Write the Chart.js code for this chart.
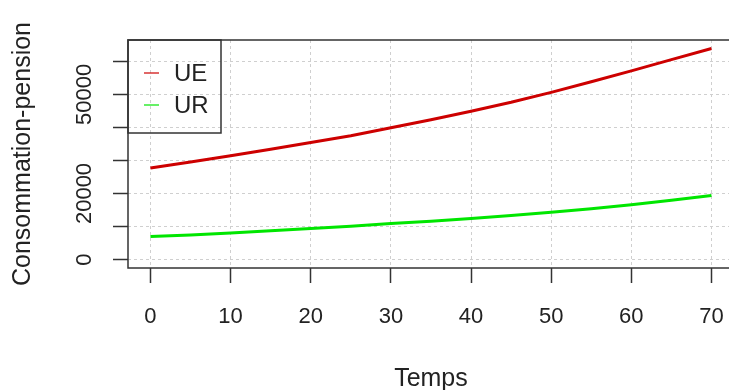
<!DOCTYPE html>
<html lang="fr">
<head>
    <meta charset="UTF-8">
    <title>Consommation-pension</title>
    <script src="https://cdn.jsdelivr.net/npm/chart.js"></script>
    <style>
        html, body {
            margin: 0;
            padding: 0;
            background: #ffffff;
            overflow: hidden;
        }
        .wrap {
            position: relative;
            width: 745px;
            height: 390px;
        }
    </style>
</head>
<body>
    <div class="wrap">
        <canvas id="chart"></canvas>
    </div>

    <script>
        // valeurs
        const temps = [0, 5, 10, 15, 20, 25, 30, 35, 40, 45, 50, 55, 60, 65, 70];
        const ue = [27700, 29500, 31400, 33400, 35400, 37500, 39900, 42300, 44900, 47600, 50600, 53800, 57100, 60500, 63900];
        const ur = [6950, 7450, 8050, 8700, 9400, 10100, 10900, 11600, 12400, 13300, 14300, 15350, 16600, 17950, 19400];

        const xTicks = [0, 10, 20, 30, 40, 50, 60, 70];
        const yTicks = [0, 10000, 20000, 30000, 40000, 50000, 60000];
        const yLabels = [0, 20000, 50000]; // R drops the labels that overlap

        const seriesNames = ['UE', 'UR'];
        const seriesColors = ['#cd0000', '#00e600'];

        // R style: 4% extension of the data range
        const xPad = (Math.max(...temps) - Math.min(...temps)) * 0.04;
        const yMax = Math.max(...ue);
        const yPad = yMax * 0.04;

        const ink = '#222222';
        const font = 'Liberation Sans, Arial, sans-serif';

        // box around plot region + legend like R's legend()
        const rPlot = {
            id: 'rPlot',
            afterDraw(chart) {
                const ctx = chart.ctx;
                const a = chart.chartArea;
                ctx.save();
                ctx.strokeStyle = '#333';
                ctx.lineWidth = 1.5;
                ctx.strokeRect(a.left, a.top, a.right - a.left, a.bottom - a.top);

                // legend
                const lx = a.left, ly = a.top, lw = 93, lh = 93;
                ctx.strokeRect(lx, ly, lw, lh);
                ctx.font = '24px ' + font;
                ctx.textBaseline = 'middle';
                ctx.textAlign = 'left';
                chart.data.datasets.forEach((ds, i) => {
                    const y = ly + 33 + i * 32;
                    ctx.strokeStyle = ds.borderColor;
                    ctx.lineWidth = 1.2;
                    ctx.beginPath();
                    ctx.moveTo(lx + 16, y);
                    ctx.lineTo(lx + 31, y);
                    ctx.stroke();
                    ctx.fillStyle = ink;
                    ctx.fillText(ds.label, lx + 46, y + 1);
                });
                ctx.restore();
            }
        };

        const ctx = document.getElementById('chart').getContext('2d');
        new Chart(ctx, {
            type: 'line',
            data: {
                datasets: [
                    {
                        label: seriesNames[0],
                        data: temps.map((t, i) => ({ x: t, y: ue[i] })),
                        borderColor: seriesColors[0],
                        borderWidth: 3,
                        pointRadius: 0,
                        tension: 0
                    },
                    {
                        label: seriesNames[1],
                        data: temps.map((t, i) => ({ x: t, y: ur[i] })),
                        borderColor: seriesColors[1],
                        borderWidth: 3,
                        pointRadius: 0,
                        tension: 0
                    }
                ]
            },
            options: {
                responsive: true,
                maintainAspectRatio: false,
                animation: false,
                layout: { padding: { top: 40, right: 8, left: 0, bottom: 0 } },
                plugins: {
                    legend: { display: false },
                    tooltip: { enabled: false }
                },
                scales: {
                    x: {
                        type: 'linear',
                        min: Math.min(...temps) - xPad,
                        max: Math.max(...temps) + xPad,
                        afterBuildTicks: s => { s.ticks = xTicks.map(v => ({ value: v })); },
                        afterFit: s => { s.height = 122; },
                        grid: {
                            color: '#cfcfcf',
                            lineWidth: 1,
                            tickLength: 15,
                            tickColor: '#333',
                            tickWidth: 1.5,
                            tickBorderDash: []
                        },
                        border: { display: false, dash: [3, 3] },
                        ticks: {
                            color: ink,
                            font: { family: font, size: 22 },
                            padding: 21,
                            maxRotation: 0,
                            autoSkip: false
                        },
                        title: {
                            display: true,
                            text: 'Temps',
                            color: ink,
                            font: { family: font, size: 25 },
                            padding: { bottom: -4 }
                        }
                    },
                    y: {
                        min: -yPad,
                        max: yMax + yPad,
                        afterBuildTicks: s => { s.ticks = yTicks.map(v => ({ value: v })); },
                        afterFit: s => { s.width = 128; },
                        grid: {
                            color: '#cfcfcf',
                            lineWidth: 1,
                            tickLength: 15,
                            tickColor: '#333',
                            tickWidth: 1.5,
                            tickBorderDash: []
                        },
                        border: { display: false, dash: [3, 3] },
                        ticks: {
                            color: ink,
                            font: { family: font, size: 22 },
                            padding: -3,
                            minRotation: 90,
                            maxRotation: 90,
                            crossAlign: 'center',
                            autoSkip: false,
                            callback: v => yLabels.includes(v) ? String(v) : ''
                        },
                        title: {
                            display: true,
                            text: 'Consommation-pension',
                            color: ink,
                            font: { family: font, size: 25 },
                            padding: { top: 8 }
                        }
                    }
                }
            },
            plugins: [rPlot]
        });
    </script>
</body>
</html>
